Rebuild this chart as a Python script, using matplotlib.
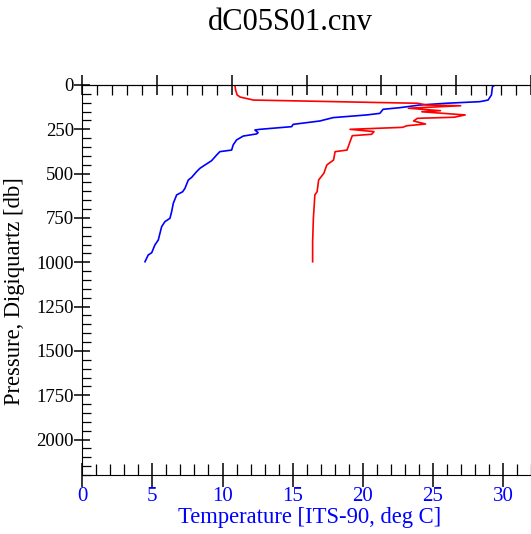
import matplotlib
matplotlib.use("Agg")
import matplotlib.pyplot as plt
from matplotlib.ticker import MultipleLocator

# temperature profile (bottom axis)
temp_p = [0, 10, 56, 85, 94, 103, 113, 128, 137, 160, 169, 184, 203, 222, 235,
          250, 254, 269, 276, 288, 310, 338, 367, 376, 395, 427, 451, 470, 489,
          521, 536, 583, 602, 620, 667, 715, 752, 771, 799, 836, 874, 902, 946,
          959, 997]
temp_t = [29.42, 29.25, 29.18, 28.94, 28.35, 25.97, 24.07, 22.64, 21.45, 21.22,
          20.27, 17.89, 16.94, 15.04, 14.93, 12.67, 12.31, 12.54, 12.43, 11.48,
          11.00, 10.76, 10.65, 9.81, 9.58, 9.22, 8.75, 8.39, 8.15, 7.80, 7.56,
          7.32, 7.16, 6.73, 6.49, 6.37, 6.25, 5.89, 5.66, 5.54, 5.42, 5.18,
          4.95, 4.70, 4.47]

# salinity profile (top axis, unlabelled)
sal_p = [0, 28, 56, 68, 85, 90, 99, 103, 113, 117, 131, 145, 151, 169, 182,
         188, 203, 220, 230, 239, 250, 263, 278, 286, 320, 367, 376, 423, 451,
         498, 536, 602, 620, 752, 884, 997]
sal_s = [33.04, 33.05, 33.07, 33.11, 33.29, 33.91, 34.98, 35.48, 35.61, 36.06,
         35.36, 35.79, 35.54, 36.12, 35.97, 35.48, 35.43, 35.59, 35.34, 35.28,
         34.58, 34.90, 34.87, 34.61, 34.58, 34.54, 34.38, 34.36, 34.27, 34.23,
         34.16, 34.14, 34.11, 34.09, 34.08, 34.08]

plt.rcParams['font.family'] = ['Liberation Serif', 'DejaVu Serif']

fig = plt.figure(figsize=(5.31, 5.34), dpi=100)
ax = fig.add_axes([82.3 / 531, 59 / 534, 1 - 82.3 / 531, 390 / 534])

ax.plot(temp_t, temp_p, color="#0000ff", lw=1.2)
ax.set_xlim(0, 32)
ax.set_ylim(2200, 0)
ax.xaxis.set_major_locator(MultipleLocator(5))
ax.xaxis.set_minor_locator(MultipleLocator(1))
ax.set_yticks(range(0, 2001, 250))
ax.yaxis.set_minor_locator(MultipleLocator(50))
ax.spines['right'].set_visible(False)

ax.tick_params(axis='x', which='major', direction='inout', length=17, width=1.1,
               labelsize=15, labelcolor='#0000ff', pad=0)
ax.tick_params(axis='x', which='minor', direction='in', length=8, width=0.9)
ax.tick_params(axis='y', which='major', direction='inout', length=12, width=1.1,
               labelsize=13.5, pad=0)
ax.tick_params(axis='y', which='minor', direction='in', length=6.5, width=0.9)
ax.set_xlabel("Temperature [ITS-90, deg C]", color="#0000ff", fontsize=16.3)
ax.set_ylabel("Pressure, Digiquartz [db]", fontsize=16.3)
ax.xaxis.set_label_coords(0.5075, -0.083)
ax.yaxis.set_label_coords(-0.127, 0.472)

ax2 = ax.twiny()
ax2.plot(sal_s, sal_p, color="#ff0000", lw=1.2)
ax2.set_xlim(31, 37)
ax2.xaxis.set_major_locator(MultipleLocator(1))
ax2.xaxis.set_minor_locator(MultipleLocator(0.2))
ax2.tick_params(axis='x', which='major', direction='inout', length=14, width=1.1,
                labeltop=False)
ax2.tick_params(axis='x', which='minor', direction='in', length=7, width=0.9)
for s in ['right', 'left', 'bottom']:
    ax2.spines[s].set_visible(False)

fig.text(290 / 531, 1 - 22 / 534, "dC05S01.cnv", ha='center', va='center', fontsize=22)

fig.savefig("out.png", dpi=100)
